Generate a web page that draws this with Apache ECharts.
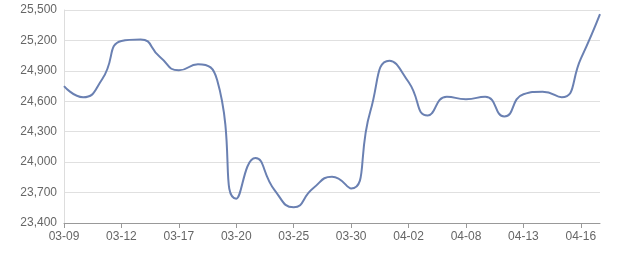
<!DOCTYPE html>
<html><head><meta charset="utf-8">
<script src="https://cdn.jsdelivr.net/npm/echarts@6/dist/echarts.min.js"></script>
<style>html,body{margin:0;padding:0;background:#fff}#c{width:640px;height:270px}</style>
</head><body><div id="c"></div>
<script>
const dates = ["03-09","03-10","03-11","03-12","03-13","03-16","03-17","03-18","03-19","03-20",
  "03-23","03-24","03-25","03-26","03-27","03-30","03-31","04-01","04-02","04-03",
  "04-07","04-08","04-09","04-10","04-13","04-14","04-15","04-16","04-17"];
const prices = [24750,24640,24820,25195,25210,25040,24905,24965,24810,23640,
  24040,23725,23555,23740,23855,23740,24500,25000,24790,24460,
  24645,24620,24645,24450,24670,24695,24640,25020,25460];
const yTicks = {min:23400, max:25500, interval:300};

const chart = echarts.init(document.getElementById('c'));
chart.setOption({
  animation:false,
  grid:{left:64,right:40,top:10,bottom:47},
  xAxis:{type:'category',data:dates,boundaryGap:false,
    axisLine:{lineStyle:{color:'#999'}},
    axisTick:{alignWithLabel:true,interval:2,length:5,lineStyle:{color:'#999'}},
    axisLabel:{interval:2,color:'#666',fontSize:12,margin:8,fontFamily:'sans-serif'}},
  yAxis:{type:'value',min:yTicks.min,max:yTicks.max,interval:yTicks.interval,
    axisLine:{show:true,lineStyle:{color:'#ddd'}},
    axisTick:{show:false},
    splitLine:{lineStyle:{color:'#e0e0e0'}},
    axisLabel:{color:'#666',fontSize:12,margin:7,fontFamily:'sans-serif',
      formatter:v=>v.toLocaleString('en-US')}},
  series:[{type:'line',data:prices,smooth:0.55,showSymbol:false,
    lineStyle:{color:'#6a80b2',width:2}}]
});
</script></body></html>
